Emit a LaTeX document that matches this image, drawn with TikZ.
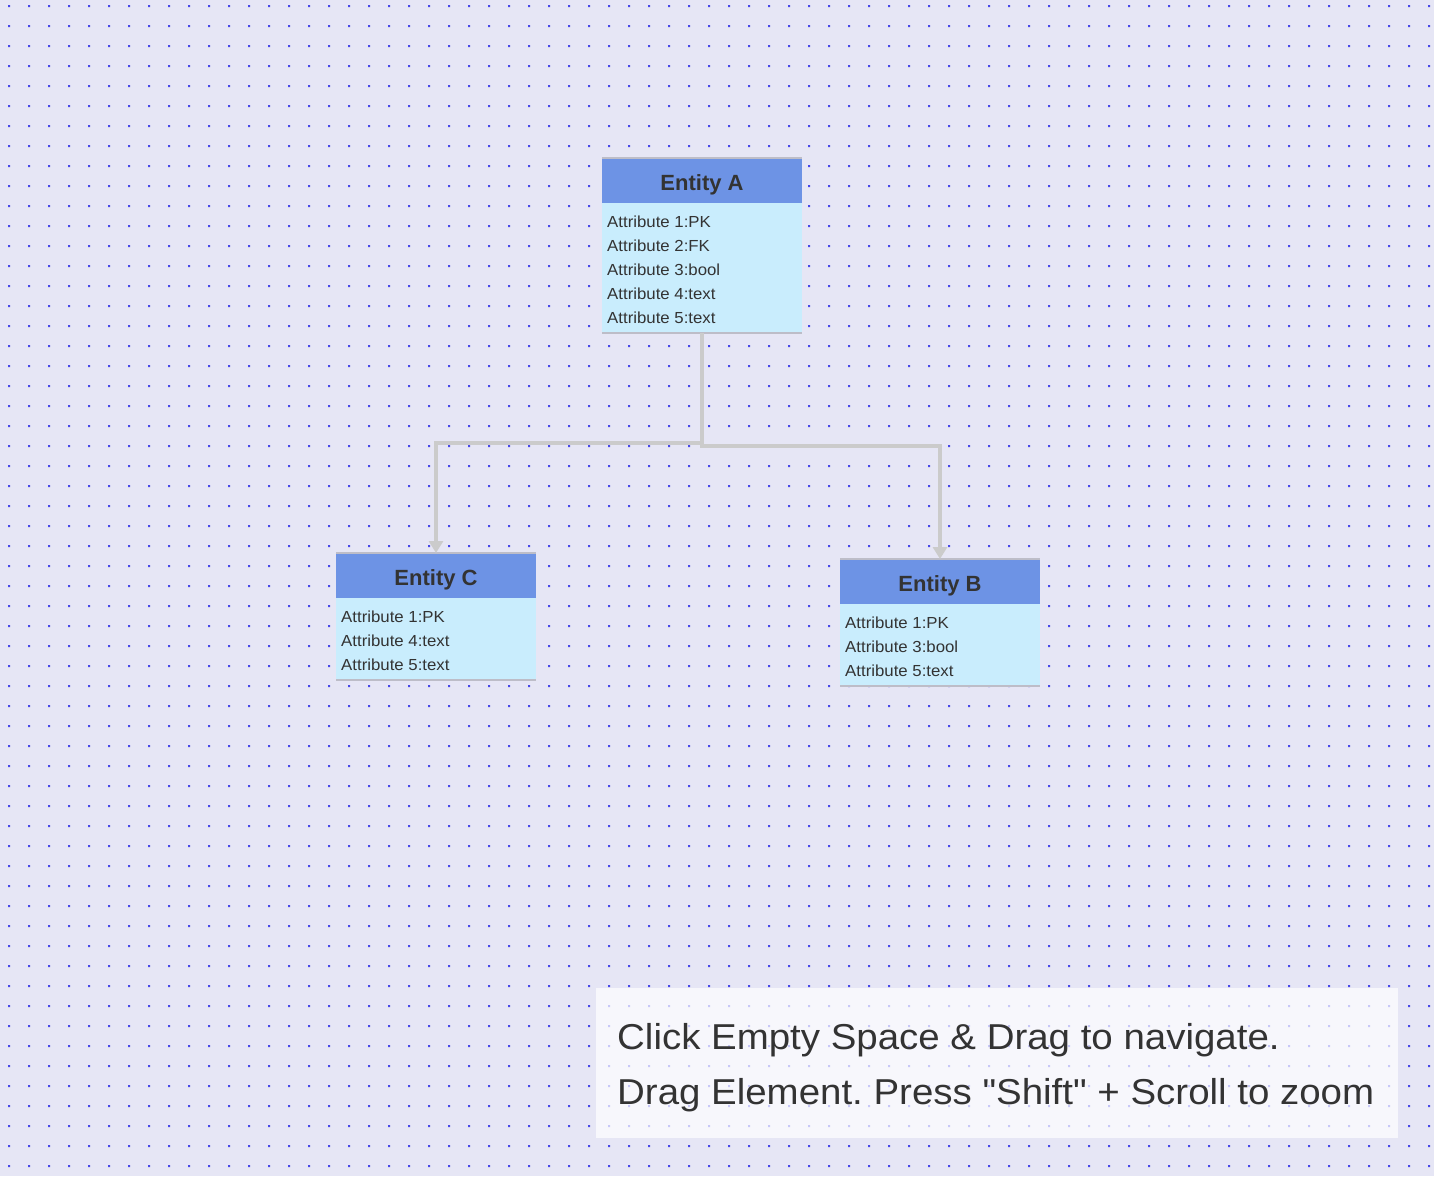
\documentclass[tikz,border=0pt]{standalone}
\usepackage{fontspec}
\setmainfont{Liberation Sans}
\newfontfamily\attrfont[FakeStretch=1.05]{Liberation Sans}
\newfontfamily\infofont[FakeStretch=1.068]{Liberation Sans}
\frenchspacing
\usetikzlibrary{arrows.meta}
\definecolor{bg}{HTML}{E6E6F5}
\definecolor{dotc}{HTML}{4848E8}
\definecolor{headc}{HTML}{6D93E5}
\definecolor{bodyc}{HTML}{C9EDFD}
\definecolor{rimc}{HTML}{BDBDC8}
\definecolor{connc}{HTML}{CBCBCB}
\definecolor{txt}{HTML}{333333}
\tikzset{
 headbox/.style={fill=headc, minimum width=200pt, minimum height=45pt, inner sep=0pt, outer sep=0pt, anchor=north west},
 bodybox/.style={fill=bodyc, minimum width=200pt, inner sep=0pt, outer sep=0pt, anchor=north west},
 titletext/.style={anchor=base, inner sep=0pt, text=txt, font=\fontsize{22}{26}\selectfont\bfseries},
 attr/.style={anchor=base west, inner sep=0pt, text=txt, font=\attrfont\fontsize{16}{19}\selectfont},
 connector/.style={draw=connc, line width=4pt, line join=miter, -{Triangle[width=14pt,length=12pt]}},
 rim/.style={draw=rimc, line width=1.5pt},
 infotext/.style={anchor=base west, inner sep=0pt, text=txt, font=\infofont\fontsize{36}{40}\selectfont},
}
\begin{document}
\begin{tikzpicture}[x=1pt,y=-1pt]
\fill[bg] (0,0) rectangle (1434,1176);
\useasboundingbox (0,0) rectangle (1434,1176);
\fill[dotc] \foreach \i in {0,...,71}{\foreach \j in {0,...,58}{(8+20*\i,5+20*\j) rectangle ++(2,2)}};

% Entity A
\node[headbox] (Ah) at (602,158) {};
\node[bodybox, minimum height=130pt] (Ab) at (602,203) {};
\draw[rim] (Ah.north west) -- (Ah.north east);
\draw[rim] (Ab.south west) -- (Ab.south east);
\node[titletext] (At) at (702,190) {Entity A};
\node[attr] (A1) at (607,227) {Attribute 1:PK};
\node[attr] (A2) at (607,251) {Attribute 2:FK};
\node[attr] (A3) at (607,275) {Attribute 3:bool};
\node[attr] (A4) at (607,299) {Attribute 4:text};
\node[attr] (A5) at (607,323) {Attribute 5:text};

% Entity C
\node[headbox] (Ch) at (336,553) {};
\node[bodybox, minimum height=82pt] (Cb) at (336,598) {};
\draw[rim] (Ch.north west) -- (Ch.north east);
\draw[rim] (Cb.south west) -- (Cb.south east);
\node[titletext] (Ct) at (436,585) {Entity C};
\node[attr] (C1) at (341,622) {Attribute 1:PK};
\node[attr] (C2) at (341,646) {Attribute 4:text};
\node[attr] (C3) at (341,670) {Attribute 5:text};

% Entity B
\node[headbox] (Bh) at (840,559) {};
\node[bodybox, minimum height=82pt] (Bb) at (840,604) {};
\draw[rim] (Bh.north west) -- (Bh.north east);
\draw[rim] (Bb.south west) -- (Bb.south east);
\node[titletext] (Bt) at (940,591) {Entity B};
\node[attr] (B1) at (845,628) {Attribute 1:PK};
\node[attr] (B2) at (845,652) {Attribute 3:bool};
\node[attr] (B3) at (845,676) {Attribute 5:text};

% connectors
\draw[connector] (Ab.south) -- ++(0,110) -| (Ch.north);
\draw[connector] (Ab.south) -- ++(0,113) -| (Bh.north);

% info box
\node[fill=white, fill opacity=0.7, minimum width=802pt, minimum height=150pt, inner sep=0pt, anchor=north west] (info) at (596,988) {};
\node[infotext] (L1) at (617,1049) {Click Empty Space \& Drag to navigate.};
\node[infotext] (L2) at (617,1104) {Drag Element. Press \symbol{34}Shift\symbol{34} + Scroll to zoom};
\end{tikzpicture}
\end{document}
